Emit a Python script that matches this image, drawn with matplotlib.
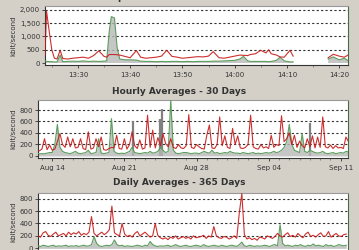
import numpy as np
import matplotlib
matplotlib.use("Agg")
import matplotlib.pyplot as plt
from matplotlib.ticker import MultipleLocator


# ---- Live graph (minutes after 13:00, nan = gap in data) ----
live_t = [23.7, 24.0, 24.5, 25.0, 25.5, 26.0, 26.6, 27.1, 28, 29, 30, 31, 32, 33, 34,
          35, 35.5, 36.0, 36.4, 37.0, 37.5, 38, 39, 40, 41.2, 42, 43, 44, 45, 46, 47,
          48, 49, 50, 51, 52, 53, 54, 55, 55.9, 57, 58, 59, 60, 61, 61.7, 62.5, 63, 64,
          65, 66, 66.5, 67, 68, 68.7, 69.5, 70.6, 71.2, 74.5, 77.9, 78.9, 80, 81, 81.7]
live_red = [300, 1950, 1200, 500, 180, 150, 480, 170, 150, 180, 200, 220, 180, 280, 460,
            250, 220, 320, 320, 320, 310, 300, 250, 200, 470, 220, 180, 200, 220, 260, 480,
            250, 220, 180, 200, 220, 240, 230, 260, 430, 200, 180, 220, 260, 300, 290, 280, 320, 350,
            480, 380, 500, 350, 300, 230, 220, 480, 260, np.nan, 200, 330, 260, 220, 300]
live_green = [80, 60, 55, 50, 40, 40, 300, 50, 60, 70, 60, 80, 60, 70, 60,
              70, 80, 1200, 1750, 1700, 600, 150, 120, 120, 110, 70, 60, 60, 50, 60, 50,
              60, 60, 50, 60, 50, 60, 60, 60, 70, 70, 80, 90, 100, 150, 250, 80, 60, 60,
              60, 60, 50, 60, 100, 220, 80, 40, 40, np.nan, 150, 230, 120, 180, 90]
live_ticks = [30, 40, 50, 60, 70, 80]
live_labels = ["13:30", "13:40", "13:50", "14:00", "14:10", "14:20"]

# ---- Hourly averages, 30 days (days after Aug 14, 6h steps from -1.5) ----
hour_red = [100, 90,
            120, 300, 110, 190,  100, 120, 250, 390,  200, 150, 330, 160,
            300, 140, 150, 300,  130, 110, 420, 120,  140, 300, 160, 330,
            110, 100, 130, 150,  140, 360, 130, 120,  300, 120, 200, 420,
            180, 130, 280, 120,  140, 710, 150, 450,  140, 320, 180, 380,
            220, 160, 300, 150,  130, 200, 140, 130,  180, 720, 150, 130,
            200, 160, 130, 120,  360, 540, 140, 130,  200, 680, 180, 350,
            150, 130, 480, 200,  350, 140, 130, 150,  200, 710, 160, 130,
            120, 200, 140, 160,  130, 360, 150, 200,  180, 700, 250, 300,
            400, 200, 360, 150,  260, 180, 140, 300,  160, 350, 140, 330,
            150, 680, 160, 140,  190, 130, 180, 140,  150, 130, 330, 250]
hour_green = [50, 40,
              40, 40, 50, 60,  60, 200, 550, 150,  80, 60, 50, 40,
              60, 80, 50, 40,  50, 60, 100, 40,  50, 60, 300, 50,
              40, 50, 60, 650,  80, 50, 40, 50,  40, 60, 80, 150,
              60, 50, 40, 50,  60, 50, 80, 50,  60, 80, 150, 100,
              60, 80, 970, 100,  50, 40, 50, 60,  60, 50, 40, 50,
              50, 40, 60, 80,  60, 50, 100, 50,  60, 40, 50, 60,
              50, 80, 60, 50,  50, 40, 60, 50,  40, 50, 60, 40,
              50, 40, 50, 60,  50, 60, 80, 60,  70, 100, 150, 250,
              550, 200, 100, 80,  60, 390, 80, 60,  100, 80, 60, 50,
              60, 80, 50, 40,  50, 60, 40, 50,  60, 50, 80, 70]
hour_gray_days = [7.88, 10.5, 10.64, 25.05]
hour_gray_vals = [600, 650, 820, 570]
hour_ticks = [0, 7, 14, 21, 28]
hour_labels = ["Aug 14", "Aug 21", "Aug 28", "Sep 04", "Sep 11"]

# ---- Daily averages, 365 days (3 day steps) ----
day_red = [200, 180, 250, 270, 210, 190, 230, 260, 200, 220,
           240, 200, 260, 220, 250, 230, 270, 210, 240, 220,
           260, 510, 240, 200, 230, 260, 220, 250, 300, 680,
           250, 220, 200, 400, 230, 190, 210, 180, 240, 270,
           200, 230, 260, 220, 180, 200, 400, 210, 170, 150,
           170, 140, 180, 160, 200, 150, 170, 190, 160, 180,
           150, 200, 170, 180, 190, 210, 160, 200, 180, 350,
           200, 170, 160, 190, 180, 150, 170, 200, 160, 570,
           880, 220, 150, 170, 140, 160, 130, 180, 170, 150,
           200, 180, 160, 190, 240, 200, 180, 220, 250, 190,
           210, 180, 240, 200, 170, 230, 260, 190, 210, 180,
           220, 250, 190, 200, 270, 180, 210, 240, 200, 190,
           220, 230]
day_green = [40, 30, 50, 40, 30, 40, 50, 30, 40, 35,
             40, 50, 30, 40, 35, 45, 30, 40, 50, 35,
             40, 60, 190, 80, 40, 30, 40, 50, 40, 60,
             135, 60, 40, 50, 30, 40, 35, 30, 40, 50,
             40, 30, 50, 40, 110, 60, 40, 30, 40, 35,
             40, 50, 30, 40, 60, 40, 30, 40, 50, 35,
             30, 40, 50, 40, 30, 60, 40, 30, 40, 50,
             40, 30, 50, 40, 30, 40, 50, 40, 30, 60,
             100, 40, 30, 50, 40, 30, 40, 35, 40, 50,
             40, 30, 50, 60, 40, 380, 80, 40, 50, 40,
             30, 50, 40, 60, 40, 30, 50, 40, 70, 40,
             50, 40, 30, 60, 40, 50, 30, 40, 60, 50,
             40, 50]

BG = "#d4d0c8"
RED = "#c81818"
GREEN = "#5c9e5c"
FILL = "#b8b8b8"


def style_axes(ax, yticks, ylabels):
    ax.set_facecolor("white")
    ax.set_yticks(yticks)
    ax.set_yticklabels(ylabels)
    for y in yticks[1:]:
        ax.axhline(y, color="#333333", lw=0.8, ls=(0, (2, 2)), zorder=1)
    ax.tick_params(labelsize=5, colors="#333333", length=2, width=0.6, pad=1.5)
    ax.tick_params(axis="x", pad=3)
    ax.tick_params(which="minor", length=1.5, width=0.5, colors="#666666")
    ax.spines["left"].set_color("#333333")
    ax.spines["bottom"].set_color("#333333")
    ax.spines["right"].set_color("#4a6a4a")
    ax.spines["top"].set_color("#999999")
    for s in ax.spines.values():
        s.set_linewidth(0.8)
    ax.set_ylabel("kbit/second", fontsize=5, color="#333333", labelpad=2.5)


def draw(ax, x, red, green):
    ax.fill_between(x, 0, green, color=FILL, alpha=0.8, lw=0, zorder=2)
    ax.plot(x, green, color=GREEN, lw=0.8, zorder=3)
    ax.plot(x, red, color=RED, lw=0.8, alpha=0.9, zorder=4)


fig = plt.figure(figsize=(3.59, 2.5), dpi=100, facecolor=BG)

# Live graph
ax1 = fig.add_axes([45 / 359, 1 - 65 / 250, 303 / 359, 59 / 250])
draw(ax1, live_t, live_red, live_green)
ax1.set_xlim(23.7, 81.7)
ax1.set_ylim(-75, 2150)
style_axes(ax1, [0, 500, 1000, 1500, 2000], ["0", "500", "1,000", "1,500", "2,000"])
ax1.set_xticks(live_ticks)
ax1.set_xticklabels(live_labels)
ax1.xaxis.set_minor_locator(MultipleLocator(5))
fig.text(0.5, 1 + 3 / 250, "Live Graph - 60 Minutes - 30 sec Interval",
         ha="center", va="center", fontsize=6.5, fontweight="bold", color="#333333")

# Hourly averages
hour_x = [-1.5 + 0.25 * i for i in range(len(hour_red))]
ax2 = fig.add_axes([38 / 359, 1 - 158 / 250, 310 / 359, 58 / 250])
ax2.vlines(hour_gray_days, 0, hour_gray_vals, color="#808080", lw=1.6, zorder=2)
draw(ax2, hour_x, hour_red, hour_green)
ax2.set_xlim(-1.38, 28.7)
ax2.set_ylim(-35, 974)
style_axes(ax2, [0, 200, 400, 600, 800], ["0", "200", "400", "600", "800"])
ax2.set_xticks(hour_ticks)
ax2.set_xticklabels(hour_labels)
ax2.xaxis.set_minor_locator(MultipleLocator(1))
fig.text(0.5, 1 - 91 / 250, "Hourly Averages - 30 Days",
         ha="center", va="center", fontsize=6.5, fontweight="bold", color="#333333")

# Daily averages
day_x = [3 * i for i in range(len(day_red))]
ax3 = fig.add_axes([38 / 359, 1 - 251 / 250, 310 / 359, 58.3 / 250])
draw(ax3, day_x, day_red, day_green)
ax3.set_xlim(0, 365)
ax3.set_ylim(-43, 895)
style_axes(ax3, [0, 200, 400, 600, 800], ["0", "200", "400", "600", "800"])
ax3.set_xticks([])
fig.text(0.5, 1 - 182.3 / 250, "Daily Averages - 365 Days",
         ha="center", va="center", fontsize=6.5, fontweight="bold", color="#333333")

fig.savefig("out.png", dpi=100, facecolor=BG)
